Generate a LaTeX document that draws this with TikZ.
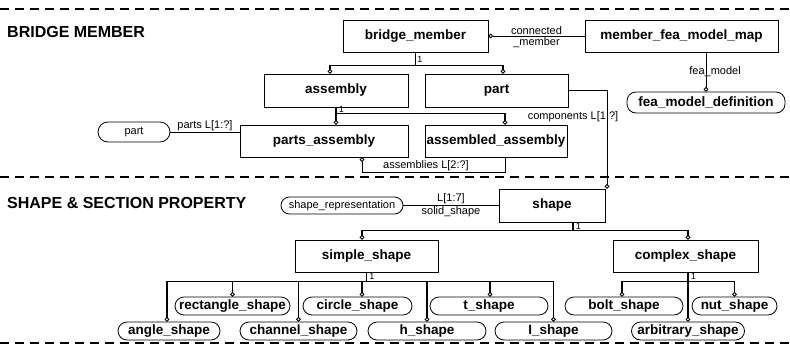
\documentclass[tikz,border=0pt]{standalone}
\usepackage{fontspec}
\setmainfont{Liberation Sans}
\usetikzlibrary{arrows.meta}
\newcommand{\EntityFont}{\bfseries\fontsize{13.5}{15}\selectfont}
\newcommand{\TagFont}{\fontsize{11}{12}\selectfont}
\newcommand{\TitleFont}{\bfseries\fontsize{16}{18}\selectfont}

\begin{document}
\begin{tikzpicture}[x=1pt,y=-1pt,
 entity/.style={draw,line width=0.8pt,inner sep=0pt,minimum height=32pt,
   font=\EntityFont},
 % defined types: boxes with fully rounded ends
 typebox/.style={draw,line width=0.8pt,inner sep=0pt,rounded corners=9pt,
   minimum height=18pt,font=\EntityFont},
 smalltype/.style={typebox,font=\TagFont},
 rel/.style={line width=0.7pt},
 subtype/.style={line width=1.5pt},
 ring/.style={-{Circle[open,length=4.5pt,width=4.5pt,line width=0.8pt]}},
 startring/.style={{Circle[open,length=4.5pt,width=4.5pt,line width=0.8pt]}-},
 tag/.style={font=\TagFont,inner sep=1pt},
 one/.style={font=\fontsize{9}{10}\selectfont,inner sep=1pt},
 title/.style={font=\TitleFont,anchor=west,inner sep=0pt},
 sep/.style={line width=1.2pt,dash pattern=on 9pt off 6pt}]
\useasboundingbox (0,0) rectangle (790,349);

% section separators
\draw[sep] (0,9) -- (790,9);
\draw[sep] (0,177) -- (790,177);
\draw[sep] (0,343) -- (790,343);

\node[title] (bmtitle) at (7,32) {BRIDGE MEMBER};
\node[title] (sptitle) at (7,203) {SHAPE \& SECTION PROPERTY};

% bridge member schema
\node[entity,minimum width=145pt] (bridgemember) at (415.5,36) {bridge\_member};
\node[entity,minimum width=193pt] (fmmap) at (681.5,36) {member\_fea\_model\_map};
\node[typebox,minimum width=158pt,minimum height=21pt] (feadef) at (706,102.5)
  {fea\_model\_definition};
\node[entity,minimum width=144pt,minimum height=33pt] (assembly) at (336,90.5) {assembly};
\node[entity,minimum width=143pt,minimum height=33pt] (part) at (496.5,90.5) {part};
\node[entity,minimum width=168pt] (partsassembly) at (324,141) {parts\_assembly};
\node[entity,minimum width=142pt] (assembledassembly) at (496,141) {assembled\_assembly};
\node[smalltype,minimum width=72pt,minimum height=20pt,rounded corners=10pt]
  (partref) at (134,132) {part};

\draw[rel,ring] (fmmap.west) -- (bridgemember.east)
  node[tag,midway,above] {connected} node[tag,midway,below] {\_member};
\draw[rel,ring] (fmmap.south -| feadef.north) -- (feadef.north)
  node[tag,midway,anchor=west,xshift=-18pt] {fea\_model};

\draw[subtype] (bridgemember.south) -- ++(0,13) coordinate (bmjoin)
  node[one,pos=0.55,anchor=west] {1};
\draw[subtype,ring] (bmjoin) -| ([xshift=-6pt]assembly.north);
\draw[subtype,ring] (bmjoin) -| ([xshift=6.5pt]part.north);

\draw[subtype] (assembly.south) -- ++(0,6) coordinate (asjoin)
  node[one,pos=0.4,anchor=west,xshift=1pt] {1};
\draw[subtype,ring] (asjoin) -| ([xshift=9pt]assembledassembly.north);
\draw[subtype,ring] (asjoin) -- (asjoin |- partsassembly.north);

\draw[rel] (partref.east) -- (partref.east -| partsassembly.west)
  node[tag,midway,above] {parts L[1:?]};
\draw[rel,startring] ([xshift=38pt]partsassembly.south) -- ++(0,15) coordinate (asmbL)
  -| ([xshift=9pt]assembledassembly.south);
\node[tag,anchor=south west] (asmblbl) at ([xshift=20pt]asmbL) {assemblies L[2:?]};

% shape and section property schema
\node[entity,minimum width=106pt,minimum height=33pt] (shape) at (552,205.5) {shape};
\node[smalltype,minimum width=122pt,minimum height=17pt,rounded corners=8.5pt]
  (shaperep) at (342,205.5) {shape\_representation};
\node[entity,minimum width=143pt] (simpleshape) at (366.5,256) {simple\_shape};
\node[entity,minimum width=145pt] (complexshape) at (685.5,256) {complex\_shape};

\node[typebox,minimum width=115pt] (rectangle) at (232.5,306) {rectangle\_shape};
\node[typebox,minimum width=109pt] (circle) at (357.5,306) {circle\_shape};
\node[typebox,minimum width=118pt] (tshape) at (489,306) {t\_shape};
\node[typebox,minimum width=118pt] (bolt) at (624,306) {bolt\_shape};
\node[typebox,minimum width=85pt] (nut) at (734.5,306) {nut\_shape};
\node[typebox,minimum width=102pt] (angle) at (169,331) {angle\_shape};
\node[typebox,minimum width=117pt] (channel) at (298.5,331) {channel\_shape};
\node[typebox,minimum width=118pt] (hshape) at (427,331) {h\_shape};
\node[typebox,minimum width=117pt] (ishape) at (553.5,331) {I\_shape};
\node[typebox,minimum width=113pt] (arbitrary) at (688,331) {arbitrary\_shape};

\draw[rel,ring] (part.east) -| ([xshift=55pt]shape.north);
\node[tag] (complbl) at (573,117) {components L[1:?]};
\draw[rel] (shaperep.east) -- (shape.west)
  node[tag,midway,above] {L[1:7]} node[tag,midway,below] {solid\_shape};

\draw[subtype] ([xshift=21pt]shape.south) -- ++(0,8) coordinate (shjoin)
  node[one,pos=0.5,anchor=west,xshift=1pt] {1};
\draw[subtype,ring] (shjoin) -| ([xshift=-4.5pt]simpleshape.north);
\draw[subtype,ring] (shjoin) -| ([xshift=2.5pt]complexshape.north);

\draw[subtype] (simpleshape.south) -- ++(0,9) coordinate (ssjoin)
  node[one,pos=0.45,anchor=west,xshift=1pt] {1};
\draw[subtype,ring] (ssjoin) -| ([xshift=-2pt]angle.north);
\draw[subtype,ring] (ssjoin) -| (rectangle.north);
\draw[subtype,ring] (ssjoin) -| (channel.north);
\draw[subtype,ring] (ssjoin) -| ([xshift=4.5pt]circle.north);
\draw[subtype,ring] (ssjoin) -| (hshape.north);
\draw[subtype,ring] (ssjoin) -| ([xshift=1pt]tshape.north);
\draw[subtype,ring] (ssjoin) -| (ishape.north);

\draw[subtype] (arbitrary.north |- complexshape.south) -- ++(0,9) coordinate (csjoin)
  node[one,pos=0.45,anchor=west,xshift=1pt] {1};
\draw[subtype,ring] (csjoin) -- (arbitrary.north);
\draw[subtype,ring] (csjoin) -| ([xshift=-2pt]bolt.north);
\draw[subtype,ring] (csjoin) -| (nut.north);
\end{tikzpicture}
\end{document}
